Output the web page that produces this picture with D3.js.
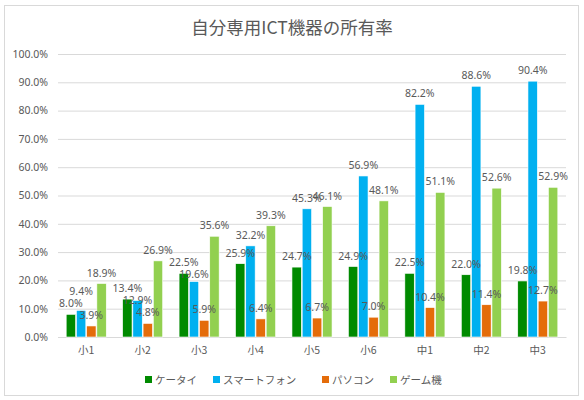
<!DOCTYPE html>
<html>
<head>
<meta charset="utf-8">
<script src="https://cdn.jsdelivr.net/npm/d3@7"></script>
<style>
  body { margin: 0; background: #fff; }
  text { font-family: "Noto Sans", "Noto Sans CJK JP", sans-serif; fill: #595959; }
</style>
</head>
<body>
<div id="chart"></div>
<script>
// datos de la grafica
var grades = ["小1", "小2", "小3", "小4", "小5", "小6", "中1", "中2", "中3"];
var seriesNames = ["ケータイ", "スマートフォン", "パソコン", "ゲーム機"];
var seriesColors = ["#008A00", "#00B0F0", "#E46C0A", "#92D050"];
var keitai = [8.0, 13.4, 22.5, 25.9, 24.7, 24.9, 22.5, 22.0, 19.8];
var smartphone = [9.4, 12.9, 19.6, 32.2, 45.3, 56.9, 82.2, 88.6, 90.4];
var pasokon = [3.9, 4.8, 5.9, 6.4, 6.7, 7.0, 10.4, 11.4, 12.7];
var gameki = [18.9, 26.9, 35.6, 39.3, 46.1, 48.1, 51.1, 52.6, 52.9];
var yTicks = [0, 10, 20, 30, 40, 50, 60, 70, 80, 90, 100];

var allSeries = [keitai, smartphone, pasokon, gameki];

var W = 584, H = 400;
var svg = d3.select("#chart").append("svg").attr("width", W).attr("height", H);

// marco del grafico
svg.append("rect").attr("x", 4.5).attr("y", 5.5).attr("width", 574).attr("height", 390)
  .attr("fill", "#fff").attr("stroke", "#D9D9D9");

svg.append("text").attr("x", 292).attr("y", 34).attr("text-anchor", "middle")
  .style("font-size", "17.5px").style("font-family", "'Noto Sans CJK JP', sans-serif")
  .text("自分専用ICT機器の所有率");

var y = d3.scaleLinear().domain([0, 100]).range([337, 54]);
var x0 = d3.scaleBand().domain(grades).range([58, 566]).paddingInner(0.29).paddingOuter(0.145);
var x1 = d3.scaleBand().domain(d3.range(seriesNames.length)).range([0, x0.bandwidth()]).paddingInner(0.08);

// lineas de la cuadricula
var yAxis = d3.axisLeft(y).tickValues(yTicks).tickSize(-(566 - 58))
  .tickFormat(function(d){ return d.toFixed(1) + "%"; });
var gy = svg.append("g").attr("transform", "translate(58,0)").call(yAxis);
gy.select(".domain").remove();
gy.selectAll("line").attr("stroke", "#D9D9D9");
gy.selectAll("text").attr("x", -10).style("font-size", "10.5px").attr("fill", "#595959");

var xAxis = d3.axisBottom(x0).tickSize(0);
var gx = svg.append("g").attr("transform", "translate(0,337)").call(xAxis);
gx.select(".domain").attr("stroke", "#D9D9D9");
gx.selectAll("text").attr("dy", "1.3em").style("font-size", "10.5px")
  .style("font-family", "'Noto Sans CJK JP', sans-serif").attr("fill", "#595959");

var rows = grades.map(function(g, i){
  return { grade: g, vals: allSeries.map(function(s){ return s[i]; }) };
});

var groups = svg.append("g").selectAll("g").data(rows).enter().append("g")
  .attr("transform", function(d){ return "translate(" + x0(d.grade) + ",0)"; });

groups.selectAll("rect").data(function(d){ return d.vals; }).enter().append("rect")
  .attr("x", function(d, k){ return x1(k); })
  .attr("y", function(d){ return y(d); })
  .attr("width", x1.bandwidth())
  .attr("height", function(d){ return 337 - y(d); })
  .attr("fill", function(d, k){ return seriesColors[k]; })
  .attr("stroke", "#fff").attr("stroke-width", 0.6);

// posicion de etiquetas: si la de smartphone choca con la de keitai, la mas alta sube
function labelY(vals, k){
  var b = y(vals[k]) - 7;
  if (k == 1) {
    var b0 = y(vals[0]) - 7;
    if (Math.abs(b - b0) < 12) {
      b = vals[1] > vals[0] ? b0 - 12 : b0 + 12;
    }
  }
  return b;
}

groups.each(function(row){
  d3.select(this).selectAll("text.lbl").data(row.vals).enter().append("text")
    .attr("class", "lbl")
    .attr("x", function(d, k){ return x1(k) + x1.bandwidth() / 2; })
    .attr("y", function(d, k){ return labelY(row.vals, k); })
    .attr("text-anchor", "middle")
    .style("font-size", "10.5px")
    .text(function(d){ return d.toFixed(1) + "%"; });
});

// leyenda
var legendX = [145, 213, 322, 390];
var lg = svg.append("g").selectAll("g").data(seriesNames).enter().append("g")
  .attr("transform", function(d, k){ return "translate(" + legendX[k] + ",376)"; });
lg.append("rect").attr("width", 7).attr("height", 7).attr("fill", function(d, k){ return seriesColors[k]; });
lg.append("text").attr("x", 10).attr("y", 7.5).style("font-size", "10.5px")
  .style("font-family", "'Noto Sans CJK JP', sans-serif").text(function(d){ return d; });
</script>
</body>
</html>
